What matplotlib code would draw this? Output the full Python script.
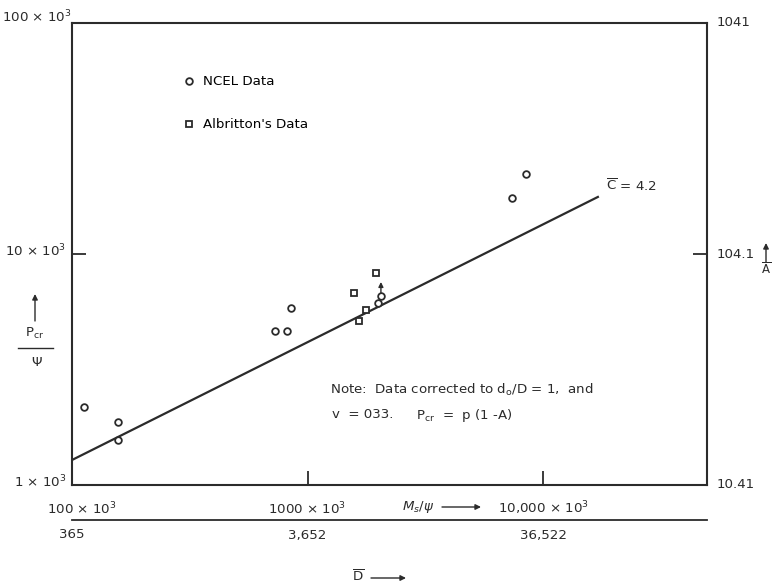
import matplotlib.pyplot as plt
from matplotlib.lines import Line2D
from matplotlib.ticker import NullLocator

# data (M_s/psi vs P_cr/psi)
ncel_x = [1.12e5, 1.57e5, 1.57e5, 7.3e5, 8.2e5, 8.5e5, 2.05e6, 2.0e6, 7.4e6, 8.5e6]
ncel_y = [2180, 1880, 1560, 4660, 4660, 5850, 6580, 6120, 17400, 22100]
albr_x = [1.57e6, 1.96e6, 1.77e6, 1.66e6]
albr_y = [6800, 8250, 5720, 5110]
fit_x = [1.0e5, 1.71e7]
fit_y = [1283, 17660]

x_ticks = [1e5, 1e6, 1e7]
x_labels = ['100 × 10$^3$', '1000 × 10$^3$', '10,000 × 10$^3$']
d_labels = ['365', '3,652', '36,522']
y_ticks = [1e3, 1e4, 1e5]
y_labels = ['1 × 10$^3$', '10 × 10$^3$', '100 × 10$^3$']
a_labels = ['10.41', '104.1', '1041']

W, H = 774, 584
INK = '#2b2b2b'
FS = 9.6


def fx(px):
    return px / W


def fy(py):
    return 1 - py / H


def arrow(fig, p0, p1):
    # thin arrow in figure pixel positions (origin top-left)
    fig.add_artist(plt.Annotation('', xy=(fx(p1[0]), fy(p1[1])), xycoords='figure fraction',
                                  xytext=(fx(p0[0]), fy(p0[1])), textcoords='figure fraction',
                                  arrowprops=dict(arrowstyle='-|>', color=INK, lw=1.0,
                                                  mutation_scale=8, shrinkA=0, shrinkB=0)))


def main():
    plt.rcParams['font.family'] = ['DejaVu Sans']
    plt.rcParams['mathtext.fontset'] = 'dejavusans'
    fig = plt.figure(figsize=(W / 100, H / 100), dpi=100)
    ax = fig.add_axes([fx(72), fy(485), (707 - 72) / W, (485 - 23) / H])

    ax.set_xscale('log')
    ax.set_yscale('log')
    ax.set_xlim(1e5, 4.97e7)
    ax.set_ylim(1e3, 1e5)
    ax.xaxis.set_minor_locator(NullLocator())
    ax.yaxis.set_minor_locator(NullLocator())
    ax.set_xticks(x_ticks[1:])
    ax.set_yticks(y_ticks[1:2])
    ax.tick_params(direction='in', length=10, width=1.3, color=INK,
                   labelbottom=False, labelleft=False, right=True)
    for s in ax.spines.values():
        s.set_linewidth(1.5)
        s.set_color(INK)

    # fitted line and points
    ax.plot(fit_x, fit_y, color=INK, lw=1.6)
    ax.plot(ncel_x, ncel_y, 'o', ms=4.8, mfc='white', mec=INK, mew=1.3,
            ls='none', label='NCEL Data')
    ax.plot(albr_x, albr_y, 's', ms=4.8, mfc='white', mec=INK, mew=1.3,
            ls='none', label="Albritton's Data")
    ax.annotate('', xy=(ncel_x[6], ncel_y[6] * 1.15), xytext=(ncel_x[6], ncel_y[6] * 1.03),
                arrowprops=dict(arrowstyle='-|>', color=INK, lw=1.0, mutation_scale=7,
                                shrinkA=0, shrinkB=0))

    ax.legend(loc='upper left', bbox_to_anchor=(0.173, 0.887), frameon=False,
              borderpad=0, borderaxespad=0, handlelength=1.0, handletextpad=0.6,
              labelspacing=2.25, fontsize=FS)

    # tick labels, left and right
    left_off = [(-4, 2), (-4, 2), (0, 4)]
    for yt, lab, alab, off in zip(y_ticks, y_labels, a_labels, left_off):
        ax.annotate(lab, xy=(0, yt), xycoords=('axes fraction', 'data'),
                    xytext=off, textcoords='offset points',
                    ha='right', va='center', fontsize=FS, color=INK)
        ax.annotate(alab, xy=(1, yt), xycoords=('axes fraction', 'data'),
                    xytext=(7, 0), textcoords='offset points',
                    ha='left', va='center', fontsize=FS, color=INK)

    # bottom labels: M_s/psi scale and D scale
    for i, (xt, lab, dlab) in enumerate(zip(x_ticks, x_labels, d_labels)):
        dx = -18 if i == 0 else 0
        ax.annotate(lab, xy=(xt, 0), xycoords=('data', 'axes fraction'),
                    xytext=(dx, -17), textcoords='offset points',
                    ha='left' if i == 0 else 'center', va='center', fontsize=FS, color=INK)
        ax.annotate(dlab, xy=(xt, 0), xycoords=('data', 'axes fraction'),
                    xytext=(0, -36), textcoords='offset points',
                    ha='center', va='center', fontsize=FS, color=INK)
    ax.plot([0, 1], [-0.0758, -0.0758], transform=ax.transAxes, color=INK,
            lw=1.3, clip_on=False)

    fig.text(fx(402), fy(507), r'$M_s/\psi$', ha='left', va='center', fontsize=FS, color=INK)
    arrow(fig, (442, 507), (481, 507))

    fig.text(fx(358), fy(577), r'$\overline{\mathrm{D}}$', ha='center', va='center',
             fontsize=FS, color=INK)
    arrow(fig, (371, 578), (406, 578))

    # left axis title: up arrow, P_cr over psi
    arrow(fig, (35, 321), (35, 294))
    fig.text(fx(35), fy(333), r'P$_{\mathrm{cr}}$', ha='center', va='center',
             fontsize=FS, color=INK)
    fig.add_artist(Line2D([fx(18), fx(53)], [fy(348), fy(348)], color=INK, lw=1.0))
    fig.text(fx(37), fy(362), 'Ψ', ha='center', va='center', fontsize=FS, color=INK)

    # right axis title: up arrow over A-bar
    arrow(fig, (766, 262), (766, 243))
    fig.text(fx(766), fy(269), r'$\overline{\mathrm{A}}$', ha='center', va='center',
             fontsize=8.5, color=INK)

    # annotations inside the plot
    fig.text(fx(606), fy(186), r'$\overline{\mathrm{C}}$ = 4.2', ha='left', va='center',
             fontsize=FS, color=INK)
    fig.text(fx(330), fy(390), r'Note:  Data corrected to d$_{\mathrm{o}}$/D = 1,  and',
             ha='left', va='center', fontsize=FS, color=INK)
    fig.text(fx(332), fy(414), 'v  = 033.', ha='left', va='center', fontsize=FS, color=INK)
    fig.text(fx(416), fy(416), r'P$_{\mathrm{cr}}$  =  p (1 -A)', ha='left', va='center',
             fontsize=FS, color=INK)

    fig.savefig('out.png', dpi=100)
    plt.close(fig)


if __name__ == '__main__':
    main()
